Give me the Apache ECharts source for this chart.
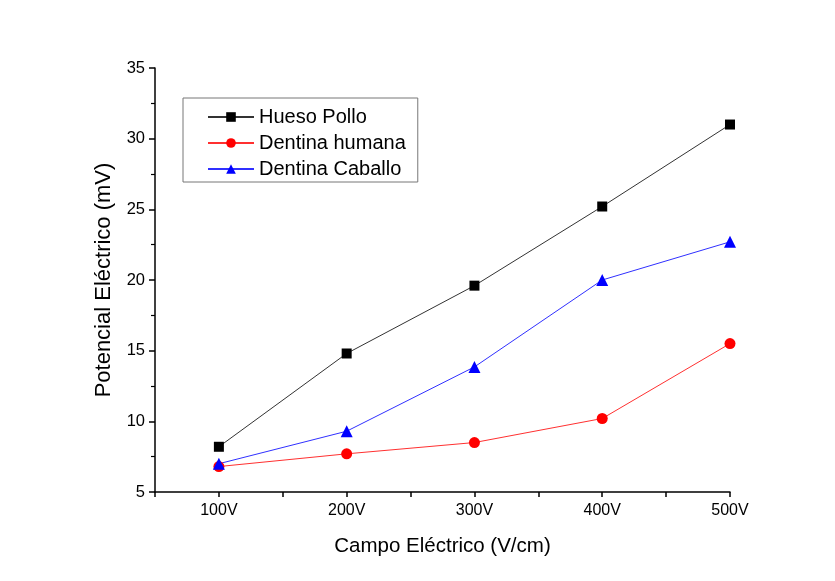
<!DOCTYPE html>
<html>
<head>
<meta charset="utf-8">
<script src="https://cdn.jsdelivr.net/npm/echarts@6/dist/echarts.min.js"></script>
<style>html,body{margin:0;padding:0;background:#fff;}#c{width:835px;height:581px;}</style>
</head>
<body>
<div id="c"></div>
<script>
var categories = ['100V', '200V', '300V', '400V', '500V'];
var xValues = [100, 200, 300, 400, 500];
var huesoPollo = [8.2, 14.8, 19.6, 25.2, 31.0];
var dentinaHumana = [6.8, 7.7, 8.5, 10.2, 15.5];
var dentinaCaballo = [7.0, 9.3, 13.85, 20.0, 22.7];
var yTicks = [5, 10, 15, 20, 25, 30, 35];

function pairs(vals) { return xValues.map(function (x, i) { return [x, vals[i]]; }); }

var font = 'Liberation Sans, Arial, sans-serif';
var chart = echarts.init(document.getElementById('c'));
chart.setOption({
  backgroundColor: '#fff',
  animation: false,
  grid: { left: 155, right: 105, top: 68, bottom: 89, containLabel: false },
  legend: {
    orient: 'vertical', left: 183, top: 98,
    padding: [9, 12, 3, 24],
    borderColor: '#777', borderWidth: 1,
    itemWidth: 46, itemHeight: 12, itemGap: 6,
    textStyle: { fontFamily: font, fontSize: 20, color: '#000', lineHeight: 20 },
    data: ['Hueso Pollo', 'Dentina humana', 'Dentina Caballo']
  },
  xAxis: {
    type: 'value', min: 50, max: 500, interval: 50,
    name: 'Campo Eléctrico (V/cm)', nameLocation: 'middle', nameGap: 44,
    nameTextStyle: { fontFamily: font, fontSize: 20.5, color: '#000' },
    axisLine: { show: true, onZero: false, lineStyle: { color: '#000', width: 1.5 } },
    axisTick: { show: true, length: 5, lineStyle: { color: '#000', width: 1.5 } },
    splitLine: { show: false },
    axisLabel: {
      margin: 11, fontFamily: font, fontSize: 16, color: '#000',
      formatter: function (v) { var i = xValues.indexOf(v); return i >= 0 ? categories[i] : ''; }
    }
  },
  yAxis: {
    type: 'value', min: yTicks[0], max: yTicks[yTicks.length - 1], interval: 5,
    name: 'Potencial Eléctrico (mV)', nameLocation: 'middle', nameGap: 40,
    nameTextStyle: { fontFamily: font, fontSize: 22, color: '#000' },
    axisLine: { show: true, lineStyle: { color: '#000', width: 1.5 } },
    axisTick: { show: true, length: 6, lineStyle: { color: '#000', width: 1.5 } },
    minorTick: { show: true, splitNumber: 2, length: 4, lineStyle: { color: '#000', width: 1.2 } },
    splitLine: { show: false },
    axisLabel: { margin: 10, fontFamily: font, fontSize: 16.5, color: '#000' }
  },
  series: [
    {
      name: 'Hueso Pollo', type: 'line', data: pairs(huesoPollo),
      symbol: 'rect', symbolSize: 10,
      lineStyle: { color: '#333', width: 1 }, itemStyle: { color: '#000' }
    },
    {
      name: 'Dentina humana', type: 'line', data: pairs(dentinaHumana),
      symbol: 'circle', symbolSize: 11,
      lineStyle: { color: '#ff3030', width: 1 }, itemStyle: { color: '#ff0000' }
    },
    {
      name: 'Dentina Caballo', type: 'line', data: pairs(dentinaCaballo),
      symbol: 'triangle', symbolSize: 12,
      lineStyle: { color: '#3030ff', width: 1 }, itemStyle: { color: '#0000ff' }
    }
  ]
});
</script>
</body>
</html>
